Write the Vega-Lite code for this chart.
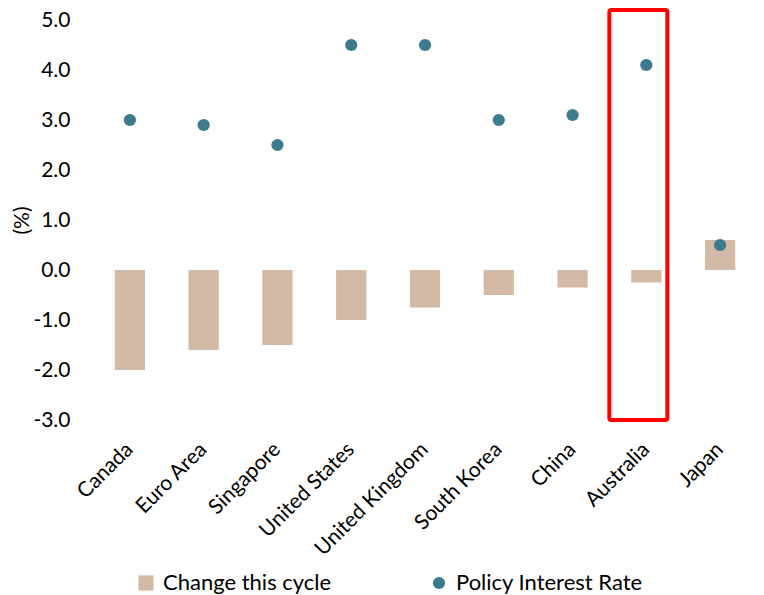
{
  "$schema": "https://vega.github.io/schema/vega-lite/v6.json",
  "width": 664,
  "height": 400,
  "autosize": {"type": "none"},
  "padding": {"left": 93, "top": 20, "right": 7, "bottom": 175},
  "config": {
    "view": {"stroke": null},
    "font": "Lato",
    "axis": {"labelFont": "Lato", "titleFont": "Lato", "labelColor": "#000000", "titleColor": "#000000"}
  },
  "datasets": {
    "rates": [
      {"country": "Canada", "series": "Change this cycle", "value": -2.0},
      {"country": "Euro Area", "series": "Change this cycle", "value": -1.6},
      {"country": "Singapore", "series": "Change this cycle", "value": -1.5},
      {"country": "United States", "series": "Change this cycle", "value": -1.0},
      {"country": "United Kingdom", "series": "Change this cycle", "value": -0.75},
      {"country": "South Korea", "series": "Change this cycle", "value": -0.5},
      {"country": "China", "series": "Change this cycle", "value": -0.35},
      {"country": "Australia", "series": "Change this cycle", "value": -0.25},
      {"country": "Japan", "series": "Change this cycle", "value": 0.6},
      {"country": "Canada", "series": "Policy Interest Rate", "value": 3.0},
      {"country": "Euro Area", "series": "Policy Interest Rate", "value": 2.9},
      {"country": "Singapore", "series": "Policy Interest Rate", "value": 2.5},
      {"country": "United States", "series": "Policy Interest Rate", "value": 4.5},
      {"country": "United Kingdom", "series": "Policy Interest Rate", "value": 4.5},
      {"country": "South Korea", "series": "Policy Interest Rate", "value": 3.0},
      {"country": "China", "series": "Policy Interest Rate", "value": 3.1},
      {"country": "Australia", "series": "Policy Interest Rate", "value": 4.1},
      {"country": "Japan", "series": "Policy Interest Rate", "value": 0.5}
    ],
    "highlight": [{"country": "Australia"}]
  },
  "data": {"name": "rates"},
  "encoding": {
    "x": {
      "field": "country",
      "type": "nominal",
      "sort": null,
      "scale": {"domain": ["Canada", "Euro Area", "Singapore", "United States", "United Kingdom", "South Korea", "China", "Australia", "Japan"], "paddingInner": 0.59, "paddingOuter": 0.295},
      "axis": {"title": null, "domain": false, "ticks": false, "labelAngle": -45, "labelAlign": "right", "labelBaseline": "middle", "labelFontSize": 21, "labelPadding": 26, "labelOffset": 0, "labelLimit": 0}
    }
  },
  "layer": [
    {
      "transform": [{"filter": "datum.series === 'Change this cycle'"}],
      "mark": {"type": "bar"},
      "encoding": {
        "y": {
          "field": "value",
          "type": "quantitative",
          "scale": {"domain": [-3, 5], "nice": false, "zero": false},
          "axis": {"title": "(%)", "titleFontSize": 21, "titleFontWeight": "normal", "titlePadding": 0, "domain": false, "ticks": false, "grid": false, "values": [-3, -2, -1, 0, 1, 2, 3, 4, 5], "labelExpr": "(datum.value < 0 ? '-' : '') + format(abs(datum.value), '.1f')", "labelFontSize": 21, "labelPadding": 23}
        },
        "color": {
          "field": "series",
          "type": "nominal",
          "scale": {"domain": ["Change this cycle", "Policy Interest Rate"], "range": ["#d3baa7", "#3d7a8e"]},
          "legend": {
            "title": null, "orient": "none", "legendX": 42, "legendY": 552, "direction": "horizontal", "columns": 2, "columnPadding": 96,
            "labelFontSize": 22, "labelLimit": 0, "labelColor": "#000000", "symbolSize": 200, "symbolStrokeWidth": 0, "labelOffset": 6,
            "encode": {"symbols": {"update": {
              "shape": {"signal": "datum.value === 'Change this cycle' ? 'square' : 'circle'"},
              "size": {"signal": "datum.value === 'Change this cycle' ? 230 : 150"}
            }}}
          }
        }
      }
    },
    {
      "mark": {"type": "rule", "color": "#d9d9d9", "strokeWidth": 2},
      "encoding": {"y": {"datum": 0}}
    },
    {
      "transform": [{"filter": "datum.series === 'Policy Interest Rate'"}],
      "mark": {"type": "point", "filled": true, "size": 150, "opacity": 1, "shape": "circle"},
      "encoding": {
        "y": {"field": "value", "type": "quantitative"},
        "color": {"field": "series", "type": "nominal"}
      }
    },
    {
      "data": {"name": "highlight"},
      "mark": {"type": "bar", "fill": null, "fillOpacity": 0, "stroke": "#ff0000", "strokeWidth": 4, "width": 58, "xOffset": -8, "cornerRadius": 2, "clip": false},
      "encoding": {
        "y": {"datum": 5.2},
        "y2": {"datum": -3.0}
      }
    }
  ]
}
